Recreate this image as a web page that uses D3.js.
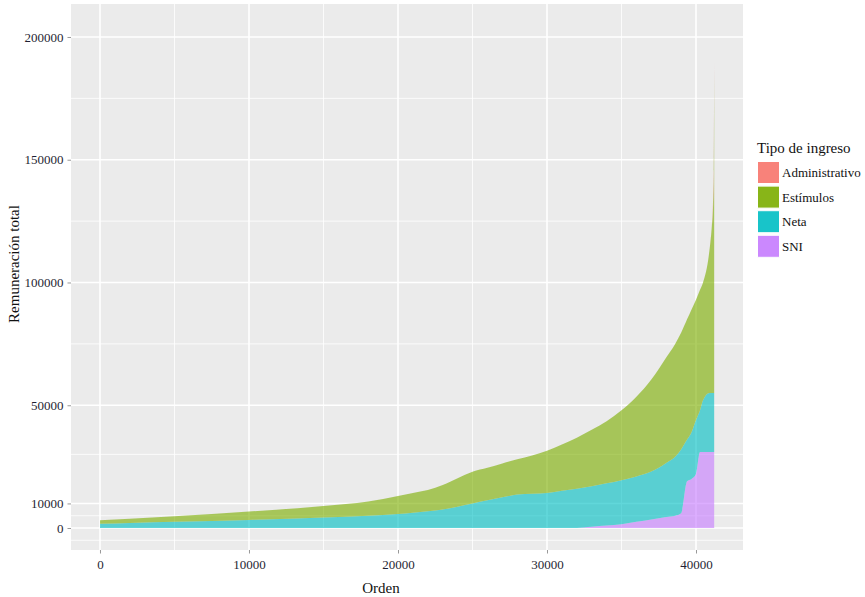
<!DOCTYPE html>
<html>
<head>
<meta charset="utf-8">
<script src="https://cdn.jsdelivr.net/npm/d3@7"></script>
<style>
  body { margin: 0; background: #fff; }
  svg { display: block; font-family: "Liberation Serif", "DejaVu Serif", serif; }
</style>
</head>
<body>
<svg id="chart" width="865" height="597"></svg>
<script>
// people ordered by total pay (Orden) and the pay components at each sampled position
var orden = [1, 2000, 5000, 10000, 15000, 18000, 20000, 21000, 22000, 23000, 24000, 25000,
  26000, 27000, 28000, 29000, 30000, 31000, 32000, 33000, 34000, 35000, 36000, 37000,
  38000, 38600, 39000, 39400, 39700, 40000, 40270, 40470, 40900, 41050, 41150, 41200, 41220];
var sni = [0, 0, 0, 0, 0, 0, 0, 0, 0, 0, 0, 0,
  0, 0, 0, 0, 0, 0, 0, 500, 1000, 1500, 2500, 3500,
  4500, 5000, 6000, 19000, 20000, 22000, 31000, 31000, 31000, 31000, 31000, 31000, 31000];
var neta = [1700, 2000, 2500, 3300, 4300, 5000, 5700, 6200, 6800, 7500, 8700, 10000,
  11300, 12500, 13600, 14000, 14300, 15200, 16000, 16500, 17200, 18000, 18500, 19500,
  22000, 24000, 26000, 17000, 19000, 22000, 17000, 21000, 24000, 24000, 24000, 24000, 24000];
var estimulos = [1500, 1800, 2300, 3400, 4700, 5800, 7300, 8100, 8700, 10000, 11600, 12900,
  13200, 13800, 14400, 15500, 17200, 18800, 20800, 23000, 25300, 28500, 32500, 37500,
  43000, 46000, 47500, 49000, 50000, 49000, 49000, 48000, 58000, 67000, 77000, 90000, 131000];
var administrativo = [0, 0, 0, 0, 0, 0, 0, 0, 0, 0, 0, 0,
  0, 0, 0, 0, 0, 0, 0, 0, 0, 0, 0, 0,
  0, 0, 0, 0, 0, 0, 0, 0, 0, 0, 3000, 5000, 4000];

var tipos = ["Administrativo", "Estímulos", "Neta", "SNI"];
var colores = ["#F8766D", "#7CAE00", "#00BFC4", "#C77CFF"];
var yBreaks = [0, 10000, 50000, 100000, 150000, 200000];
var yMinor = [-5000, 5000, 30000, 75000, 125000, 175000];
var xBreaks = [0, 10000, 20000, 30000, 40000];
var xMinor = [5000, 15000, 25000, 35000];

var svg = d3.select("#chart");
var panel = { left: 71, right: 743, top: 4, bottom: 550 };

var x = d3.scaleLinear().domain([-1946, 43154]).range([panel.left, panel.right]);
var y = d3.scaleLinear().domain([-8960, 213440]).range([panel.bottom, panel.top]);
var color = d3.scaleOrdinal().domain(tipos).range(colores);

// panel background
svg.append("rect")
  .attr("x", panel.left).attr("y", panel.top)
  .attr("width", panel.right - panel.left).attr("height", panel.bottom - panel.top)
  .attr("fill", "#EBEBEB");

var grid = svg.append("g");
grid.selectAll(".ymin").data(yMinor).enter().append("line")
  .attr("x1", panel.left).attr("x2", panel.right)
  .attr("y1", function(d) { return y(d); }).attr("y2", function(d) { return y(d); })
  .attr("stroke", "#fff").attr("stroke-width", 0.8);
grid.selectAll(".xmin").data(xMinor).enter().append("line")
  .attr("y1", panel.top).attr("y2", panel.bottom)
  .attr("x1", function(d) { return x(d); }).attr("x2", function(d) { return x(d); })
  .attr("stroke", "#fff").attr("stroke-width", 0.8);
grid.selectAll(".ymaj").data(yBreaks).enter().append("line")
  .attr("x1", panel.left).attr("x2", panel.right)
  .attr("y1", function(d) { return y(d); }).attr("y2", function(d) { return y(d); })
  .attr("stroke", "#fff").attr("stroke-width", 1.6);
grid.selectAll(".xmaj").data(xBreaks).enter().append("line")
  .attr("y1", panel.top).attr("y2", panel.bottom)
  .attr("x1", function(d) { return x(d); }).attr("x2", function(d) { return x(d); })
  .attr("stroke", "#fff").attr("stroke-width", 1.6);

// stacked areas, SNI at the bottom and Administrativo on top
var rows = orden.map(function(o, i) {
  return { orden: o, "SNI": sni[i], "Neta": neta[i], "Estímulos": estimulos[i], "Administrativo": administrativo[i] };
});
var stack = d3.stack().keys(["SNI", "Neta", "Estímulos", "Administrativo"]);
var area = d3.area()
  .curve(d3.curveMonotoneX)
  .x(function(d) { return x(d.data.orden); })
  .y0(function(d) { return y(d[0]); })
  .y1(function(d) { return y(d[1]); });

svg.append("g").selectAll("path")
  .data(stack(rows)).enter()
  .append("path")
  .attr("d", area)
  .attr("fill", function(d) { return color(d.key); })
  .attr("fill-opacity", 0.62);

// axes
var yAxis = svg.append("g")
  .attr("transform", "translate(" + panel.left + ",0)")
  .call(d3.axisLeft(y).tickValues(yBreaks).tickSize(3.5).tickPadding(4).tickFormat(d3.format("d")));
var xAxis = svg.append("g")
  .attr("transform", "translate(0," + panel.bottom + ")")
  .call(d3.axisBottom(x).tickValues(xBreaks).tickSize(3.5).tickPadding(6).tickFormat(d3.format("d")));
[xAxis, yAxis].forEach(function(ax) {
  ax.select(".domain").remove();
  ax.selectAll(".tick line").attr("stroke", "#333").attr("stroke-opacity", 0.5);
  ax.selectAll(".tick text").attr("fill", "#1f1f33")
    .style("font-family", "Liberation Serif, serif").style("font-size", "13px");
});

svg.append("text")
  .attr("x", x(20000) - 17).attr("y", 593)
  .attr("text-anchor", "middle")
  .style("font-size", "15px").attr("fill", "#111")
  .text("Orden");
svg.append("text")
  .attr("transform", "translate(19,264) rotate(-90)")
  .attr("text-anchor", "middle")
  .style("font-size", "15px").attr("fill", "#111")
  .text("Remuneración total");

// legend
var legend = svg.append("g").attr("transform", "translate(757,0)");
legend.append("text")
  .attr("x", 0).attr("y", 153)
  .style("font-size", "15px").attr("fill", "#111")
  .text("Tipo de ingreso");
var item = legend.selectAll(".item").data(tipos).enter().append("g")
  .attr("transform", function(d, i) { return "translate(0," + (161 + i * 24.6) + ")"; });
item.append("rect")
  .attr("width", 23).attr("height", 23)
  .attr("fill", "#F2F2F2");
item.append("rect")
  .attr("x", 0.5).attr("y", 0.5)
  .attr("width", 22).attr("height", 22)
  .attr("fill", function(d) { return color(d); })
  .attr("fill-opacity", 0.9)
  .attr("stroke", "#fff").attr("stroke-width", 1);
item.append("text")
  .attr("x", 25).attr("y", 16)
  .style("font-size", "13px").attr("fill", "#111")
  .text(function(d) { return d; });
</script>
</body>
</html>
